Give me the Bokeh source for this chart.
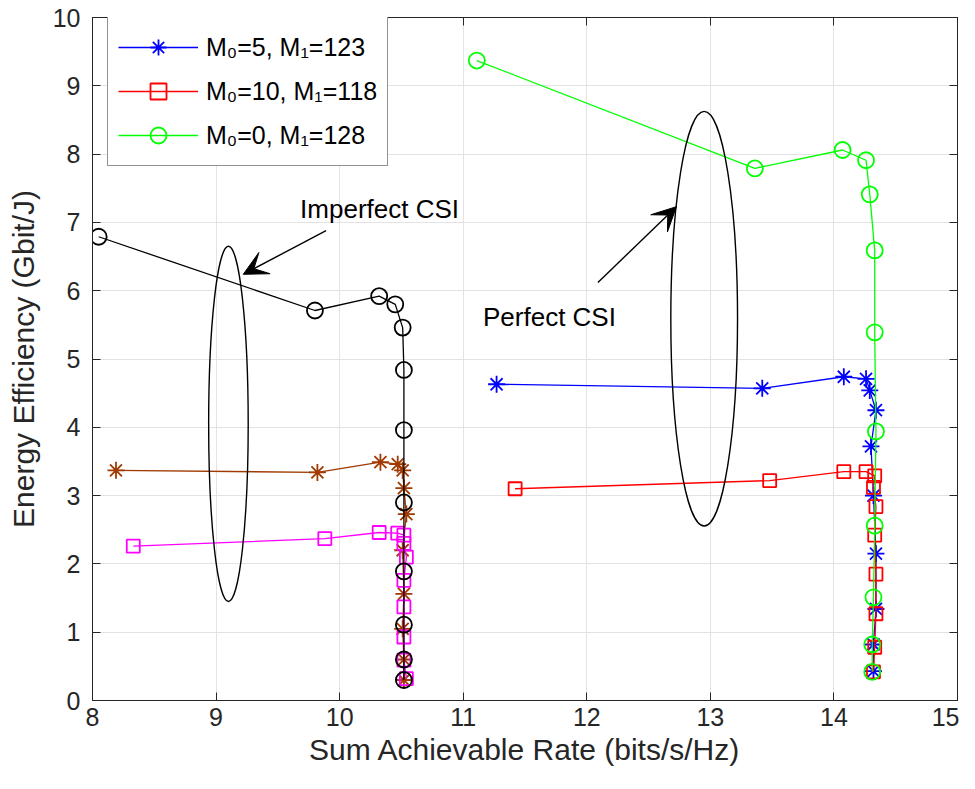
from bokeh.plotting import figure
from bokeh.models import (Range1d, LinearAxis, Legend, LegendItem, Arrow, VeeHead,
                          Label, FixedTicker)
from bokeh.embed import file_html
from bokeh.resources import INLINE

FONT = "Liberation Sans"
AX = "#262626"

# ---------------- data ----------------
# Perfect CSI
rate_m5_perfect = [11.27, 13.42, 14.08, 14.26, 14.29, 14.34, 14.30, 14.32, 14.34, 14.34, 14.32, 14.32]
ee_m5_perfect = [4.63, 4.57, 4.74, 4.71, 4.54, 4.25, 3.72, 3.00, 2.15, 1.34, 0.82, 0.43]

rate_m10_perfect = [11.42, 13.48, 14.08, 14.26, 14.33, 14.32, 14.34, 14.33, 14.34, 14.34, 14.33, 14.32]
ee_m10_perfect = [3.10, 3.22, 3.35, 3.35, 3.29, 3.12, 2.84, 2.42, 1.85, 1.27, 0.78, 0.42]

rate_m0_perfect = [11.11, 13.36, 14.07, 14.26, 14.29, 14.33, 14.33, 14.34, 14.33, 14.32, 14.31, 14.31]
ee_m0_perfect = [9.37, 7.79, 8.06, 7.91, 7.41, 6.59, 5.39, 3.94, 2.56, 1.51, 0.82, 0.42]

# Imperfect CSI
rate_m5_imperfect = [8.19, 9.82, 10.33, 10.47, 10.51, 10.52, 10.54, 10.51, 10.52, 10.51, 10.52, 10.52]
ee_m5_imperfect = [3.37, 3.34, 3.49, 3.46, 3.37, 3.11, 2.73, 2.20, 1.56, 1.05, 0.60, 0.30]

rate_m10_imperfect = [8.33, 9.88, 10.32, 10.47, 10.52, 10.52, 10.54, 10.52, 10.52, 10.52, 10.52, 10.54]
ee_m10_imperfect = [2.26, 2.37, 2.46, 2.45, 2.42, 2.30, 2.10, 1.76, 1.37, 0.93, 0.59, 0.32]

rate_m0_imperfect = [8.05, 9.80, 10.32, 10.45, 10.51, 10.52, 10.52, 10.52, 10.52, 10.52, 10.52, 10.52]
ee_m0_imperfect = [6.79, 5.71, 5.92, 5.80, 5.46, 4.84, 3.96, 2.90, 1.89, 1.11, 0.60, 0.30]

legend_labels = ["M\u2080=5, M\u2081=123", "M\u2080=10, M\u2081=118", "M\u2080=0, M\u2081=128"]
x_ticks = [8, 9, 10, 11, 12, 13, 14, 15]
y_ticks = [0, 1, 2, 3, 4, 5, 6, 7, 8, 9, 10]

# annotation geometry (data units)
ellipse_imperfect = dict(x=9.10, y=4.05, w=0.32, h=5.2)
ellipse_perfect = dict(x=12.95, y=5.59, w=0.54, h=6.08)
arrow_imperfect = (9.89, 6.88, 9.22, 6.24)
arrow_perfect = (12.09, 6.12, 12.725, 7.23)
text_imperfect = (9.68, 7.20, "Imperfect CSI")
text_perfect = (11.16, 5.61, "Perfect CSI")

# ---------------- figure ----------------
p = figure(width=959, height=773, output_backend="svg", toolbar_location=None,
           x_range=Range1d(8, 15), y_range=Range1d(0, 10),
           min_border_left=92, min_border_right=2, min_border_top=17, min_border_bottom=73)
p.background_fill_color = "white"
p.border_fill_color = "white"
p.outline_line_color = AX
p.outline_line_width = 1

for ax in (p.xaxis[0], p.yaxis[0]):
    ax.axis_line_color = AX
    ax.major_tick_line_color = AX
    ax.major_tick_in = 8
    ax.major_tick_out = 0
    ax.minor_tick_line_color = None
    ax.major_label_text_font = FONT
    ax.major_label_text_font_size = "25px"
    ax.major_label_text_color = AX
    ax.axis_label_text_font = FONT
    ax.axis_label_text_font_size = "30px"
    ax.axis_label_text_font_style = "normal"
    ax.axis_label_text_color = AX

p.xaxis.ticker = FixedTicker(ticks=x_ticks)
p.yaxis.ticker = FixedTicker(ticks=y_ticks)
p.xaxis.axis_label = "Sum Achievable Rate (bits/s/Hz)"
p.yaxis.axis_label = "Energy Efficiency (Gbit/J)"
p.xaxis.major_label_standoff = 7
p.yaxis.major_label_standoff = 12
p.xaxis.axis_label_standoff = 4
p.yaxis.axis_label_standoff = 10

for loc in ("above", "right"):
    a = LinearAxis(ticker=FixedTicker(ticks=x_ticks if loc == "above" else y_ticks),
                   major_label_text_font_size="1px", major_label_text_color=None,
                   major_label_standoff=0,
                   major_tick_in=8, major_tick_out=0, minor_tick_line_color=None,
                   axis_line_color=AX, major_tick_line_color=AX)
    p.add_layout(a, loc)

p.xgrid.grid_line_color = "#E3E3E3"
p.ygrid.grid_line_color = "#E3E3E3"
p.xgrid.ticker = FixedTicker(ticks=x_ticks)
p.ygrid.ticker = FixedTicker(ticks=y_ticks)

# ---------------- series ----------------
series = [
    (rate_m5_perfect, ee_m5_perfect, "#0000FF", "asterisk", 17, legend_labels[0]),
    (rate_m10_perfect, ee_m10_perfect, "#FF0000", "square", 13, legend_labels[1]),
    (rate_m0_perfect, ee_m0_perfect, "#00FF00", "circle", 16, legend_labels[2]),
    (rate_m5_imperfect, ee_m5_imperfect, "#A03A00", "asterisk", 17, None),
    (rate_m10_imperfect, ee_m10_imperfect, "#FF00FF", "square", 13, None),
    (rate_m0_imperfect, ee_m0_imperfect, "#000000", "circle", 16, None),
]

items = []
for xs, ys, col, mk, sz, lab in series:
    r1 = p.line(xs, ys, line_color=col, line_width=1.3)
    r2 = p.scatter(xs, ys, marker=mk, size=sz, line_color=col, fill_color=None, line_width=1.8)
    if lab is not None:
        items.append(LegendItem(label=lab, renderers=[r1, r2]))

# ellipses
for e in (ellipse_imperfect, ellipse_perfect):
    p.ellipse(x=[e["x"]], y=[e["y"]], width=[e["w"]], height=[e["h"]],
              fill_color=None, line_color="black", line_width=1.4)

# arrows
for (xs0, ys0, xe, ye) in (arrow_imperfect, arrow_perfect):
    p.add_layout(Arrow(x_start=xs0, y_start=ys0, x_end=xe, y_end=ye, line_width=1.4,
                       line_color="black",
                       end=VeeHead(size=24, fill_color="black", line_color="black", line_width=1)))

for (tx, ty, t) in (text_imperfect, text_perfect):
    p.add_layout(Label(x=tx, y=ty, text=t, text_font=FONT, text_font_size="26px",
                       text_baseline="middle", text_color="black"))

legend = Legend(items=items, location=(15, 534),
                label_text_font=FONT, label_text_font_size="25px", label_text_color="black",
                glyph_width=80, glyph_height=40, label_height=40, spacing=4,
                padding=10, label_standoff=8, margin=0,
                border_line_color=AX, border_line_width=1,
                background_fill_color="white", background_fill_alpha=1)
p.add_layout(legend, "center")

open("out.html", "w").write(file_html(p, INLINE))
